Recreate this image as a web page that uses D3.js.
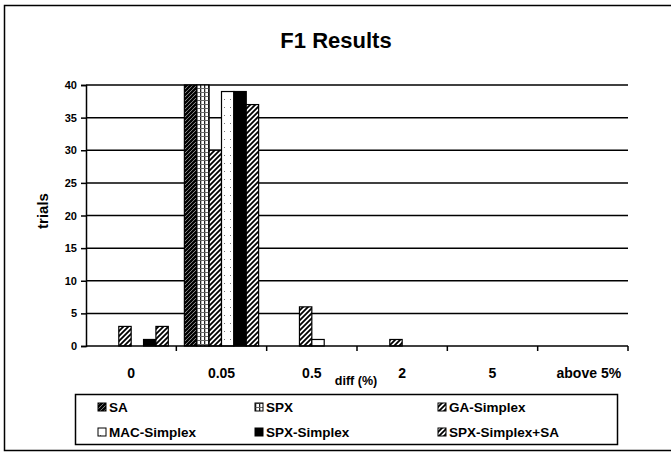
<!DOCTYPE html>
<html>
<head>
<meta charset="utf-8">
<script src="https://cdn.jsdelivr.net/npm/d3@7"></script>
<style>
  body { margin: 0; background: #fff; }
  svg { font-family: "Liberation Sans", Arial, sans-serif; }
</style>
</head>
<body>
<svg id="chart" width="671" height="455"></svg>
<script>
// categories along the x axis
const categories = ['0', '0.05', '0.5', '2', '5', 'above 5%'];
// series names (legend order)
const seriesNames = ['SA', 'SPX', 'GA-Simplex', 'MAC-Simplex', 'SPX-Simplex', 'SPX-Simplex+SA'];
// values per series, one per category
const saValues      = [0, 40, 0, 0, 0, 0];
const spxValues     = [0, 40, 0, 0, 0, 0];
const gaValues      = [3, 30, 6, 1, 0, 0];
const macValues     = [0, 39, 1, 0, 0, 0];
const spxSimValues  = [1, 39, 0, 0, 0, 0];
const spxSimSaValues = [3, 37, 0, 0, 0, 0];
const yTicks = [0, 5, 10, 15, 20, 25, 30, 35, 40];

const seriesValues = [saValues, spxValues, gaValues, macValues, spxSimValues, spxSimSaValues];
const fills = ['url(#pSA)', 'url(#pSPX)', 'url(#pGA)', 'url(#pMAC)', '#000', 'url(#pSSA)'];

const svg = d3.select('#chart');
const plotLeft = 86, plotRight = 628, plotTop = 85, plotBottom = 346;

// patterns
const defs = svg.append('defs');
function hatch(id, size, lineW) {
    const p = defs.append('pattern').attr('id', id)
        .attr('patternUnits', 'userSpaceOnUse')
        .attr('width', size).attr('height', size);
    p.append('rect').attr('width', size).attr('height', size).attr('fill', '#fff');
    p.append('path')
        .attr('d', `M0,${size} L${size},0 M${-size/2},${size/2} L${size/2},${-size/2} M${size/2},${size*1.5} L${size*1.5},${size/2}`)
        .attr('stroke', '#000').attr('stroke-width', lineW);
}
hatch('pSA', 4, 2.4);
hatch('pGA', 5, 1.8);
hatch('pSSA', 5, 1.8);

const grid = defs.append('pattern').attr('id', 'pSPX')
    .attr('patternUnits', 'userSpaceOnUse').attr('width', 4).attr('height', 4);
grid.append('rect').attr('width', 4).attr('height', 4).attr('fill', '#fff');
grid.append('rect').attr('x', 0).attr('y', 0).attr('width', 1.3).attr('height', 4).attr('fill', '#222');
grid.append('rect').attr('x', 0).attr('y', 0).attr('width', 4).attr('height', 1).attr('fill', '#666');

const dots = defs.append('pattern').attr('id', 'pMAC')
    .attr('patternUnits', 'userSpaceOnUse').attr('width', 6).attr('height', 8);
dots.append('rect').attr('width', 6).attr('height', 8).attr('fill', '#fff');
dots.append('rect').attr('x', 2).attr('y', 3).attr('width', 1).attr('height', 1).attr('fill', '#777');

// outer frame
svg.append('rect')
    .attr('x', 4.5).attr('y', 5.5).attr('width', 700).attr('height', 445)
    .attr('fill', 'none').attr('stroke', '#000').attr('stroke-width', 1.5);

// title
svg.append('text')
    .attr('x', 336).attr('y', 48)
    .attr('text-anchor', 'middle')
    .style('font-size', '22px').style('font-weight', 'bold')
    .text('F1 Results');

const x = d3.scaleBand().domain(categories).range([plotLeft, plotRight]);
const x1 = d3.scaleBand().domain(seriesNames).range([0, x.bandwidth()]).paddingOuter(0.65);
const y = d3.scaleLinear().domain([0, 40]).range([plotBottom, plotTop]);

// gridlines
svg.append('g').selectAll('line')
    .data(yTicks.filter(d => d > 0))
    .join('line')
    .attr('x1', plotLeft).attr('x2', plotRight)
    .attr('y1', d => y(d)).attr('y2', d => y(d))
    .attr('stroke', '#000').attr('stroke-width', 1.5);

// bars
const table = seriesNames.map((name, i) =>
    categories.map((c, j) => ({ series: name, cat: c, value: seriesValues[i][j], fill: fills[i] })));

svg.append('g').selectAll('g')
    .data(table)
    .join('g')
    .selectAll('rect')
    .data(d => d.filter(v => v.value > 0))
    .join('rect')
    .attr('x', d => x(d.cat) + x1(d.series))
    .attr('y', d => y(d.value))
    .attr('width', x1.bandwidth())
    .attr('height', d => plotBottom - y(d.value))
    .attr('fill', d => d.fill)
    .attr('stroke', '#000').attr('stroke-width', 1.2);

// y axis
const yAxis = svg.append('g')
    .attr('transform', `translate(${plotLeft},0)`)
    .call(d3.axisLeft(y).tickValues(yTicks).tickSize(5).tickPadding(4));
yAxis.select('.domain').attr('stroke-width', 1.5);
yAxis.selectAll('.tick line').attr('stroke-width', 1.5);
yAxis.selectAll('text')
    .style('font-size', '11px').style('font-weight', 'bold')
    .style('font-family', '"Liberation Sans", Arial, sans-serif');

// x axis: line with ticks at band boundaries
svg.append('line')
    .attr('x1', plotLeft).attr('x2', plotRight).attr('y1', plotBottom).attr('y2', plotBottom)
    .attr('stroke', '#000').attr('stroke-width', 1.5);
svg.append('g').selectAll('line')
    .data(categories)
    .join('line')
    .attr('x1', d => x(d) + x.bandwidth())
    .attr('x2', d => x(d) + x.bandwidth())
    .attr('y1', plotBottom).attr('y2', plotBottom + 5)
    .attr('stroke', '#000').attr('stroke-width', 1.5);
svg.append('g').selectAll('text')
    .data(categories)
    .join('text')
    .attr('x', d => x(d) + x.bandwidth() / 2 + (d === 'above 5%' ? 6 : 0))
    .attr('y', 378)
    .attr('text-anchor', 'middle')
    .style('font-size', '14px').style('font-weight', 'bold')
    .text(d => d);

// axis titles
svg.append('text')
    .attr('x', 356).attr('y', 385)
    .attr('text-anchor', 'middle')
    .style('font-size', '12.5px').style('font-weight', 'bold')
    .text('diff (%)');
svg.append('text')
    .attr('transform', 'translate(48,211) rotate(-90)')
    .attr('text-anchor', 'middle')
    .style('font-size', '15px').style('font-weight', 'bold')
    .text('trials');

// legend
svg.append('rect')
    .attr('x', 75.5).attr('y', 394.5).attr('width', 542).attr('height', 50)
    .attr('fill', '#fff').attr('stroke', '#000').attr('stroke-width', 1.5);
const legendCols = [98, 255, 438];
const legendRows = [407, 432];
const legend = svg.append('g').selectAll('g')
    .data(seriesNames)
    .join('g')
    .attr('transform', (d, i) => `translate(${legendCols[i % 3]},${legendRows[Math.floor(i / 3)]})`);
legend.append('rect')
    .attr('x', 0).attr('y', -4).attr('width', 8).attr('height', 8)
    .attr('fill', (d, i) => fills[i])
    .attr('stroke', '#000').attr('stroke-width', 1);
legend.append('text')
    .attr('x', 11).attr('y', 5)
    .style('font-size', '13.5px').style('font-weight', 'bold')
    .text(d => d);
</script>
</body>
</html>
